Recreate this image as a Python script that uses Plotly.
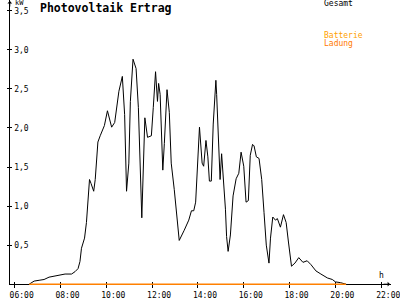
import plotly.graph_objects as go

# ---- data ----
gesamt_times = ["06:38", "06:51", "07:04", "07:17", "07:30", "07:42", "07:59", "08:12", "08:29", "08:38",
                "08:46", "08:51", "08:55", "09:03", "09:08", "09:12", "09:16", "09:20", "09:25", "09:27",
                "09:31", "09:38", "09:44", "09:55", "10:03", "10:14", "10:22", "10:33", "10:42", "10:48",
                "10:53", "10:59", "11:03", "11:10", "11:18", "11:24", "11:33", "11:37", "11:41", "11:48",
                "11:58", "12:03", "12:09", "12:14", "12:17", "12:21", "12:28", "12:32", "12:39", "12:45",
                "12:50", "12:58", "13:05", "13:11", "13:24", "13:36", "13:43", "13:49", "13:54", "13:58",
                "14:04", "14:11", "14:15", "14:21", "14:26", "14:30", "14:35", "14:40", "14:47", "14:49",
                "14:53", "14:58", "15:02", "15:06", "15:12", "15:15", "15:19", "15:25", "15:32", "15:40",
                "15:47", "15:53", "16:00", "16:06", "16:12", "16:17", "16:23", "16:27", "16:33", "16:40",
                "16:47", "16:53", "16:59", "17:06", "17:10", "17:16", "17:23", "17:28", "17:36", "17:44",
                "17:51", "17:57", "18:05", "18:14", "18:24", "18:35", "18:46", "18:56", "19:09", "19:22",
                "19:39", "19:52", "20:00", "20:13", "20:26", "20:28"]
gesamt_kw = [0.00, 0.04, 0.05, 0.06, 0.09, 0.10, 0.12, 0.13, 0.13, 0.16,
             0.20, 0.29, 0.46, 0.59, 0.79, 1.05, 1.34, 1.29, 1.22, 1.19,
             1.34, 1.82, 1.90, 2.03, 2.22, 2.01, 2.07, 2.47, 2.66, 2.17,
             1.19, 1.55, 2.34, 2.88, 2.76, 2.26, 0.85, 1.55, 2.13, 1.88,
             1.90, 2.26, 2.72, 2.34, 2.57, 2.43, 1.46, 1.80, 2.49, 2.20,
             1.55, 1.21, 0.88, 0.56, 0.69, 0.82, 0.94, 0.94, 1.05, 1.51,
             2.01, 1.55, 1.51, 1.84, 1.63, 1.32, 1.32, 2.05, 2.61, 2.43,
             1.84, 1.34, 1.67, 1.42, 0.96, 0.61, 0.42, 0.63, 1.13, 1.35,
             1.42, 1.69, 1.51, 1.05, 1.07, 1.65, 1.79, 1.77, 1.63, 1.61,
             1.34, 0.92, 0.50, 0.27, 0.59, 0.86, 0.82, 0.84, 0.73, 0.89,
             0.79, 0.54, 0.23, 0.27, 0.34, 0.28, 0.30, 0.25, 0.17, 0.13,
             0.08, 0.06, 0.03, 0.02, 0.01, 0.00]
batterie_times = ["06:38", "20:28"]
batterie_kw = [0.0, 0.0]

x_tick_hours = [6, 8, 10, 12, 14, 16, 18, 20, 22]
x_tick_labels = ["06:00", "08:00", "10:00", "12:00", "14:00", "16:00", "18:00", "20:00", "22:00"]
y_tick_vals = [0.5, 1.0, 1.5, 2.0, 2.5, 3.0, 3.5]

title_text = "Photovoltaik Ertrag"
legend_gesamt = "Gesamt"
legend_batterie = ["Batterie", "Ladung"]


def to_hours(t):
    h, m = t.split(":")
    return int(h) + int(m) / 60.0


W, H = 400, 300
PX_H = 375 / 16.0        # pixels per hour
PX_KW = 279 / 3.5        # pixels per kW
X0_PX, Y0_PX = 15, 290   # pixel of 06:00 and 0 kW


def hour_at(px):
    return 6 + (px - X0_PX) / PX_H


def kw_at(py):
    return (Y0_PX - py) / PX_KW


mono = "DejaVu Sans Mono"
axis_x_px, axis_y_px = 10, 290
xr = [hour_at(axis_x_px), hour_at(W)]
yr = [0, kw_at(0)]

fig = go.Figure()
# display axes (x / y), inside-tick overlays (x2 / y2), data axes (x3 / y3, full canvas, drawn on top)
fig.add_trace(go.Scatter(x=[], y=[], xaxis="x", yaxis="y", showlegend=False))
fig.add_trace(go.Scatter(x=[], y=[], xaxis="x2", yaxis="y2", showlegend=False))
fig.add_trace(go.Scatter(x=[to_hours(t) for t in gesamt_times], y=gesamt_kw, mode="lines",
                         line=dict(color="black", width=1), xaxis="x3", yaxis="y3", showlegend=False))
fig.add_trace(go.Scatter(x=[to_hours(t) for t in batterie_times], y=batterie_kw, mode="lines",
                         line=dict(color="#FF8000", width=1.6), xaxis="x3", yaxis="y3", showlegend=False))

fig.update_layout(
    width=W, height=H, margin=dict(l=0, r=0, t=0, b=0),
    paper_bgcolor="white", plot_bgcolor="rgba(0,0,0,0)",
    separators=",.",
    font=dict(family=mono, size=8, color="black"),
    xaxis=dict(domain=[axis_x_px / W, 1], anchor="y", range=xr,
               showline=True, linecolor="black", linewidth=1, showgrid=False, zeroline=False,
               ticks="outside", ticklen=3, tickcolor="black", tickwidth=1,
               tickvals=x_tick_hours, ticktext=x_tick_labels, ticklabeloverflow="allow",
               tickfont=dict(family=mono, size=8, color="black"),
               ticklabelshift=7, ticklabelstandoff=0, fixedrange=True),
    yaxis=dict(domain=[(H - axis_y_px) / H, 1], anchor="x", range=yr,
               showline=True, linecolor="black", linewidth=1, showgrid=False, zeroline=False,
               ticks="outside", ticklen=2, tickcolor="black", tickwidth=1,
               tickvals=y_tick_vals, tickformat=".1f", ticklabelposition="inside",
               ticklabeloverflow="allow",
               tickfont=dict(family=mono, size=8, color="black"), ticklabelstandoff=3, fixedrange=True),
    xaxis2=dict(overlaying="x", anchor="y", range=xr, showline=False, showgrid=False, zeroline=False,
                showticklabels=False, ticks="inside", ticklen=2, tickcolor="black",
                tickvals=x_tick_hours, fixedrange=True),
    yaxis2=dict(overlaying="y", anchor="x", range=yr, showline=False, showgrid=False, zeroline=False,
                showticklabels=False, ticks="inside", ticklen=2, tickcolor="black",
                tickvals=y_tick_vals, fixedrange=True),
    xaxis3=dict(domain=[0, 1], anchor="y3", range=[hour_at(0), hour_at(W)], visible=False, fixedrange=True),
    yaxis3=dict(domain=[0, 1], anchor="x3", range=[kw_at(H), kw_at(0)], visible=False, fixedrange=True),
)


def px_ann(text, x, y, color="black", size=8, bold=False, xanchor="left"):
    fig.add_annotation(text=f"<b>{text}</b>" if bold else text, xref="paper", yref="paper",
                       x=x / W, y=1 - y / H, xanchor=xanchor, yanchor="middle", showarrow=False,
                       font=dict(family=mono, size=size, color=color))


px_ann(title_text, 39, 8, size=11.5, bold=True)
px_ann("kW", 13, 3, size=7)
px_ann("h", 386, 281)
px_ann(legend_gesamt, 329, 4)
px_ann(legend_batterie[0], 329, 36, color="#FFA000")
px_ann(legend_batterie[1], 329, 44, color="#FF7A00")

# axis arrows
fig.add_annotation(xref="paper", yref="paper", x=axis_x_px / W, y=1, ax=0, ay=8, text="",
                   showarrow=True, arrowhead=1, arrowsize=0.8, arrowwidth=1, arrowcolor="black")
fig.add_annotation(xref="paper", yref="paper", x=399 / W, y=1 - axis_y_px / H, ax=-8, ay=0, text="",
                   showarrow=True, arrowhead=1, arrowsize=0.8, arrowwidth=1, arrowcolor="black")

fig.write_html("out.html")
